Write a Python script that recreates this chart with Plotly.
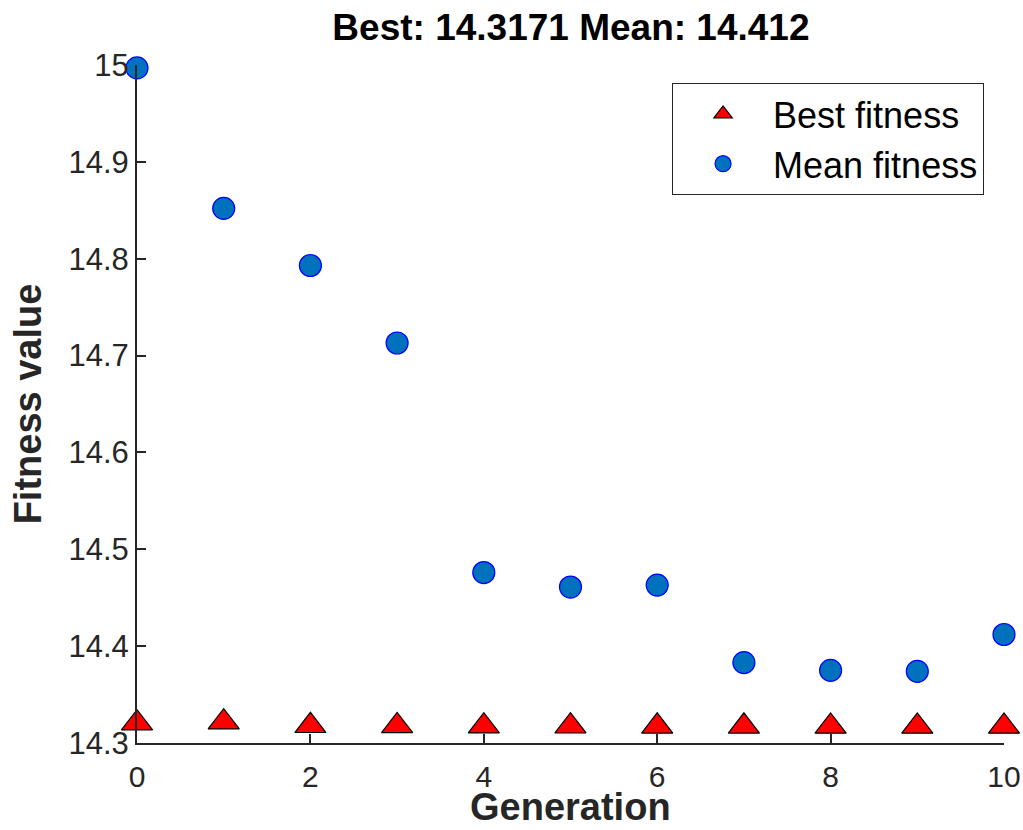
import plotly.graph_objects as go

generation = [0, 1, 2, 3, 4, 5, 6, 7, 8, 9, 10]
best_fitness = [14.3205, 14.3215, 14.3178, 14.3176, 14.3174, 14.3173, 14.3172, 14.3172, 14.3171, 14.3171, 14.3171]
mean_fitness = [14.997, 14.852, 14.793, 14.713, 14.476, 14.461, 14.463, 14.383, 14.375, 14.374, 14.412]
x_ticks = [0, 2, 4, 6, 8, 10]
y_ticks = [14.3, 14.4, 14.5, 14.6, 14.7, 14.8, 14.9, 15.0]
y_tick_labels = ["14.3", "14.4", "14.5", "14.6", "14.7", "14.8", "14.9", "15"]
title_text = "Best: 14.3171 Mean: 14.412"
x_label = "Generation"
y_label = "Fitness value"

FONT = "Liberation Sans, Arial, sans-serif"
AX = "#262626"
H = 830
PLOT_TOP, PLOT_BOTTOM = 65, 743.5

fig = go.Figure()
fig.add_trace(go.Scatter(
    x=generation, y=best_fitness, mode="markers", name="Best fitness",
    marker=dict(symbol="triangle-up", size=27, color="#FF0000",
                line=dict(color="#000000", width=1.2)),
    cliponaxis=False,
))
fig.add_trace(go.Scatter(
    x=generation, y=mean_fitness, mode="markers", name="Mean fitness",
    marker=dict(symbol="circle", size=22, color="#0072BD",
                line=dict(color="#0000FF", width=1.2)),
    cliponaxis=False,
))

fig.update_layout(
    width=1023, height=H,
    margin=dict(l=137, r=19, t=PLOT_TOP, b=H - PLOT_BOTTOM, autoexpand=False),
    paper_bgcolor="white", plot_bgcolor="white",
    font=dict(family=FONT, color=AX),
    title=dict(text="<b>" + title_text + "</b>", x=0.5005, xref="paper", xanchor="center",
               y=1 - 27 / H, yref="container", yanchor="middle",
               font=dict(family=FONT, size=37, color="#000000")),
    showlegend=True,
    legend=dict(x=0.977, y=0.9735, xanchor="right", yanchor="top",
                bgcolor="white", bordercolor=AX, borderwidth=1,
                font=dict(family=FONT, size=36, color="#000000"),
                itemwidth=90, tracegroupgap=0),
)
fig.add_annotation(
    text="<b>" + x_label + "</b>", xref="paper", yref="paper",
    x=0.5, y=-(808 - PLOT_BOTTOM) / (PLOT_BOTTOM - PLOT_TOP),
    xanchor="center", yanchor="middle", showarrow=False,
    font=dict(family=FONT, size=38, color=AX),
)
fig.update_xaxes(
    range=[0, 10], tickvals=x_ticks, ticktext=[str(v) for v in x_ticks],
    ticks="inside", ticklen=9, tickwidth=1.5, tickcolor=AX,
    showline=True, linecolor=AX, linewidth=2, mirror=False,
    showgrid=False, zeroline=False,
    tickfont=dict(family=FONT, size=30, color=AX), ticklabelstandoff=6,
)
fig.update_yaxes(
    range=[14.3, 15.0], tickvals=y_ticks, ticktext=y_tick_labels,
    ticks="inside", ticklen=9, tickwidth=1.5, tickcolor=AX,
    showline=True, linecolor=AX, linewidth=2, mirror=False,
    showgrid=False, zeroline=False,
    tickfont=dict(family=FONT, size=31, color=AX), ticklabelstandoff=0,
    title=dict(text="<b>" + y_label + "</b>", font=dict(family=FONT, size=38, color=AX), standoff=15),
)

fig.write_html("out.html")
